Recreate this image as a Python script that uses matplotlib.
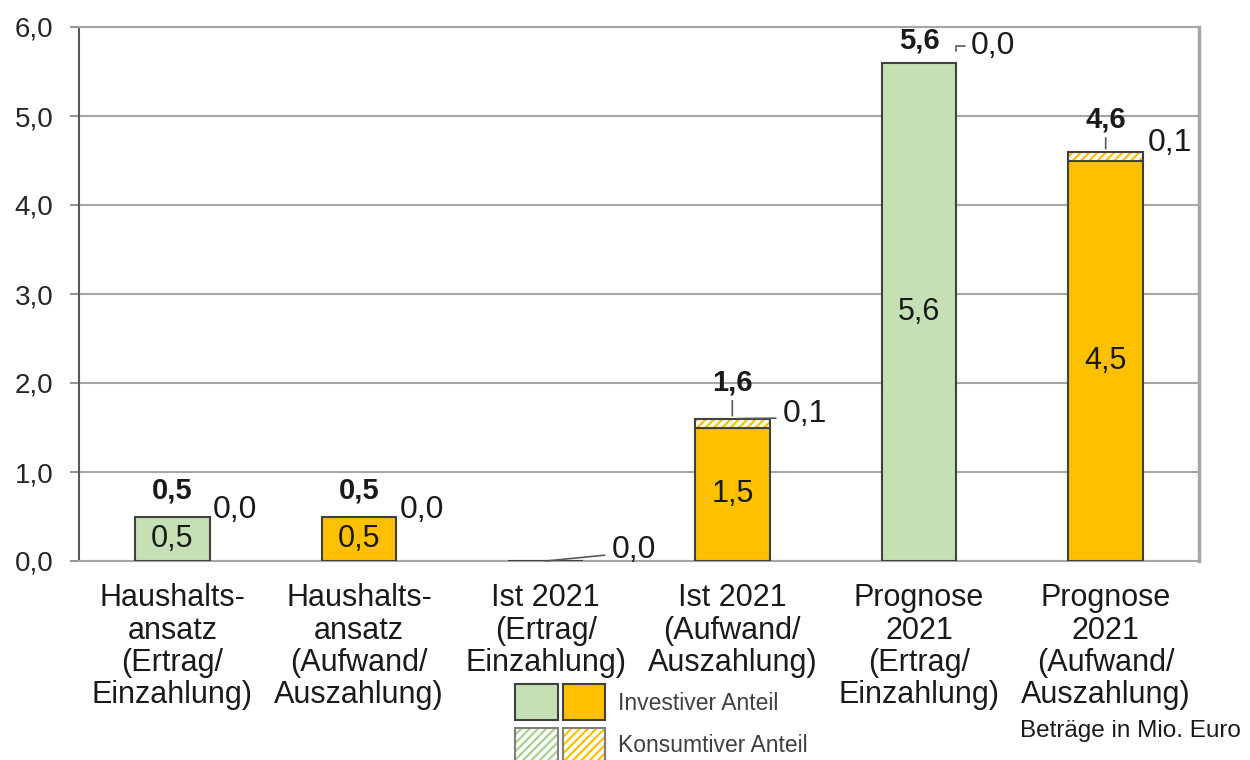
import matplotlib.pyplot as plt
from matplotlib.patches import Rectangle

plt.rcParams["font.family"] = ["Liberation Sans", "DejaVu Sans"]
plt.rcParams["hatch.linewidth"] = 1.6

# data
categories = [
    "Haushalts-\nansatz\n(Ertrag/\nEinzahlung)",
    "Haushalts-\nansatz\n(Aufwand/\nAuszahlung)",
    "Ist 2021\n(Ertrag/\nEinzahlung)",
    "Ist 2021\n(Aufwand/\nAuszahlung)",
    "Prognose\n2021\n(Ertrag/\nEinzahlung)",
    "Prognose\n2021\n(Aufwand/\nAuszahlung)",
]
investiv = [0.5, 0.5, 0.0, 1.5, 5.6, 4.5]
konsumtiv = [0.0, 0.0, 0.0, 0.1, 0.0, 0.1]
gesamt = [0.5, 0.5, None, 1.6, 5.6, 4.6]
art = ["ertrag", "aufwand", "ertrag", "aufwand", "ertrag", "aufwand"]
yticks = [0, 1, 2, 3, 4, 5, 6]

fill = {"ertrag": "#C5E0B4", "aufwand": "#FFC000"}
hatchcol = {"ertrag": "#A9D18E", "aufwand": "#FFC000"}
edge = "#404040"
txt = "#1a1a1a"


def de(v):
    return f"{v:.1f}".replace(".", ",")


fig = plt.figure(figsize=(12.5, 7.6), dpi=100)
ax = fig.add_axes([79 / 1250, 1 - 561 / 760, 1120 / 1250, 534 / 760])

x = list(range(len(categories)))
w = 0.40
cols = [fill[a] for a in art]
ax.bar(x, investiv, width=w, color=cols, edgecolor=edge, linewidth=1.5, zorder=3)
# konsumtiver Anteil: hatch layer + outline
ax.bar(x, konsumtiv, bottom=investiv, width=w, color="white",
       edgecolor=[hatchcol[a] for a in art], hatch="////", linewidth=0, zorder=3)
for xi, b, h in zip(x, investiv, konsumtiv):
    if h > 0:
        ax.bar(xi, h, bottom=b, width=w, color="none", edgecolor=edge,
               linewidth=1.5, zorder=4)

# labels inside bars
for xi, v in zip(x, investiv):
    if v > 0:
        ax.text(xi, v / 2, de(v), ha="center", va="center", fontsize=22,
                color=txt, zorder=5)

# total labels (bold) with optional leader
tot_off = [26, 26, 0, 36, 22, 32]
for xi, t, b, h, d in zip(x, gesamt, investiv, konsumtiv, tot_off):
    if t is None:
        continue
    line = dict(arrowstyle="-", color="#595959", lw=1.2, shrinkA=1, shrinkB=2,
                relpos=(0.5, 0)) if h > 0 else None
    ax.annotate(de(t), xy=(xi, b + h), xytext=(0, d), textcoords="offset pixels",
                ha="center", va="center", fontsize=21, fontweight="bold",
                color=txt, arrowprops=line, zorder=5)

# konsumtiv labels next to bars
side_off = [(3, 6), (3, 6), (66, 11), (45, 5), (14, 17), (5, 9)]
side_xy = [(0.2, 0), (0.2, 0), (0.0, 0), (0.03, 0), (0.2, 0), (0.2, 0)]
for xi, b, h, off, sxy in zip(x, investiv, konsumtiv, side_off, side_xy):
    i = xi
    if i == 2 or i == 3:
        line = dict(arrowstyle="-", color="#595959", lw=1.2, shrinkA=3, shrinkB=0,
                    relpos=(0, 0.35))
    elif i == 4:
        line = dict(arrowstyle="-", color="#595959", lw=1.2, shrinkA=2, shrinkB=8,
                    relpos=(0, 0.5), connectionstyle="angle,angleA=0,angleB=90,rad=0")
    else:
        line = None
    ax.annotate(de(h), xy=(xi + sxy[0], b + h), xytext=off,
                textcoords="offset pixels", ha="left", va="center",
                fontsize=23, color=txt, arrowprops=line, zorder=5)

ax.set_xlim(-0.5, 5.5)
ax.set_ylim(0, 6)
ax.set_yticks(yticks)
ax.set_yticklabels([de(v) for v in yticks], fontsize=20, color="#262626")
ax.set_xticks(x)
ax.set_xticklabels(categories, fontsize=22, color=txt, linespacing=1.1)
ax.tick_params(axis="x", length=0, pad=16)
ax.tick_params(axis="y", length=6.5, width=1.2, color="#808080", pad=12)
ax.grid(axis="y", color="#A6A6A6", linewidth=1.5, zorder=0)
ax.set_axisbelow(True)
ax.spines["left"].set_color("#595959")
ax.spines["left"].set_linewidth(1.5)
ax.spines["bottom"].set_color("#A6A6A6")
ax.spines["bottom"].set_linewidth(1.5)
ax.spines["top"].set_color("#A6A6A6")
ax.spines["top"].set_linewidth(1.5)
ax.spines["right"].set_color("#A6A6A6")
ax.spines["right"].set_linewidth(2.5)


# legend drawn by hand
def fig_rect(x0, y0, x1, y1, **kw):
    fig.add_artist(Rectangle((x0 / 1250, 1 - y1 / 760), (x1 - x0) / 1250,
                             (y1 - y0) / 760, transform=fig.transFigure, **kw))


fig_rect(515, 684, 558, 720, facecolor=fill["ertrag"], edgecolor=edge, lw=1.5)
fig_rect(563, 684, 605, 720, facecolor=fill["aufwand"], edgecolor=edge, lw=1.5)
fig_rect(515, 728, 558, 766, facecolor="white", edgecolor=hatchcol["ertrag"],
         hatch="////", lw=0)
fig_rect(515, 728, 558, 766, facecolor="none", edgecolor="#7f7f7f", lw=1.5)
fig_rect(563, 728, 605, 766, facecolor="white", edgecolor=hatchcol["aufwand"],
         hatch="////", lw=0)
fig_rect(563, 728, 605, 766, facecolor="none", edgecolor="#7f7f7f", lw=1.5)

fig.text(618 / 1250, 1 - 703 / 760, "Investiver Anteil", ha="left", va="center",
         fontsize=16.5, color="#404040")
fig.text(618 / 1250, 1 - 745 / 760, "Konsumtiver Anteil", ha="left", va="center",
         fontsize=16.5, color="#404040")
fig.text(1020 / 1250, 1 - 731 / 760, "Beträge in Mio. Euro", ha="left",
         va="center", fontsize=17.5, color=txt)

fig.savefig("out.png", dpi=100)
